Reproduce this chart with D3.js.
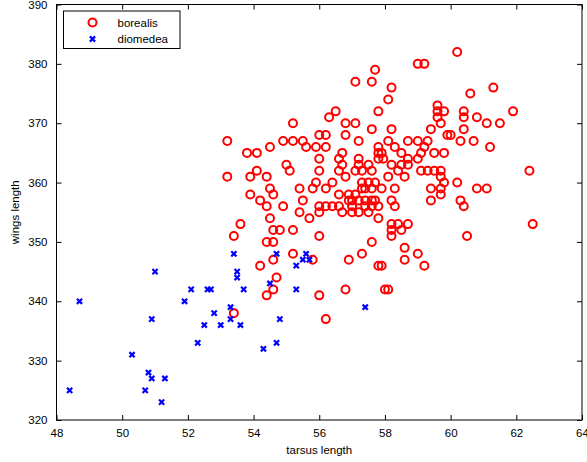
<!DOCTYPE html>
<html><head><meta charset="utf-8">
<script src="https://cdn.jsdelivr.net/npm/d3@7"></script>
<style>body{margin:0;background:#fff}svg text{font-family:"Liberation Sans",Arial,sans-serif}</style>
</head><body><svg id="c" width="587" height="462"></svg>
<script>
const xTicks = [48,50,52,54,56,58,60,62,64];
const yTicks = [320,330,340,350,360,370,380,390];
const seriesNames = ["borealis","diomedea"];
// borealis: [tarsus, wings]
const borealis = [
[60.2,382],[59.0,380],[59.2,380],[57.7,379],[57.1,377],[57.6,377],[58.2,376],[61.3,376],[60.6,375],[58.1,374],[59.6,373],
[56.5,372],[57.8,372],[59.6,372],[59.8,372],[60.4,372],[61.9,372],
[56.3,371],[59.6,371],[60.4,371],[60.8,371],
[55.2,370],[56.8,370],[57.1,370],[59.7,370],[61.1,370],[61.5,370],
[57.6,369],[58.2,369],[59.4,369],[60.4,369],
[56.0,368],[56.2,368],[56.8,368],[59.9,368],[60.0,368],
[53.2,367],[54.9,367],[55.2,367],[55.5,367],[57.2,367],[58.1,367],[58.7,367],[59.0,367],[59.3,367],[60.3,367],[60.7,367],
[54.5,366],[55.6,366],[55.9,366],[56.2,366],[57.8,366],[58.3,366],[59.2,366],[61.2,366],
[53.8,365],[54.1,365],[56.7,365],[57.8,365],[57.9,365],[58.5,365],[59.1,365],[59.5,365],[59.8,365],
[56.0,364],[56.6,364],[57.2,364],[57.8,364],[57.95,364],[58.7,364],[59.0,364],
[55.0,363],[56.7,363],[57.2,363],[57.5,363],[58.2,363],[58.5,363],[58.7,363],
[54.1,362],[55.1,362],[56.0,362],[56.6,362],[57.1,362],[57.3,362],[57.6,362],[58.4,362],[59.1,362],[59.3,362],[59.5,362],[59.7,362],[62.4,362],
[53.2,361],[53.9,361],[54.4,361],[56.8,361],[58.1,361],[58.6,361],[59.7,361],
[55.9,360],[56.4,360],[57.3,360],[57.5,360],[57.7,360],[59.8,360],[60.2,360],
[54.5,359],[55.4,359],[55.8,359],[56.2,359],[57.3,359],[57.4,359],[57.6,359],[57.9,359],[58.3,359],[59.4,359],[59.7,359],[60.8,359],[61.1,359],
[53.9,358],[54.6,358],[56.6,358],[56.9,358],[57.1,358],[59.7,358],
[54.2,357],[55.5,357],[56.9,357],[57.0,357],[57.2,357],[57.4,357],[57.6,357],[57.7,357],[58.2,357],[59.4,357],[60.3,357],
[54.4,356],[54.9,356],[56.0,356],[56.2,356],[56.4,356],[56.6,356],[57.0,356],[57.4,356],[57.6,356],[57.8,356],[58.3,356],[60.4,356],
[55.4,355],[56.0,355],[56.7,355],[57.0,355],[57.2,355],[57.5,355],
[54.5,354],[55.7,354],[57.8,354],
[53.6,353],[58.2,353],[58.4,353],[58.7,353],[62.5,353],
[54.6,352],[54.8,352],[55.2,352],[58.2,352],[58.5,352],
[53.4,351],[56.0,351],[58.2,351],[60.5,351],
[54.4,350],[54.6,350],[57.6,350],
[58.6,349],[55.2,348],[57.3,348],[59.0,348],
[54.6,347],[55.8,347],[56.9,347],[58.6,347],
[54.2,346],[57.8,346],[57.9,346],[59.2,346],
[54.7,344],[54.6,342],[56.8,342],[58.0,342],[58.1,342],
[54.4,341],[56.0,341],[53.4,338],[56.2,337]
];
const diomedea = [
[48.4,325],[48.7,340],[51.0,345],[50.3,331],[50.9,337],[50.8,328],[50.9,327],[50.7,325],[51.3,327],[51.2,323],
[51.9,340],[52.1,342],[52.3,333],[52.6,342],[52.7,342],[52.5,336],[52.8,338],[53.0,336],[53.3,339],[53.3,337],
[53.4,348],[53.5,345],[53.5,344],[53.6,336],[53.7,342],[54.7,348],[54.5,343],[55.3,346],[55.6,348],[55.5,347],
[55.7,347],[55.3,342],[54.8,337],[57.4,339],[54.3,332],[54.7,333]
];

const svg = d3.select("#c");
const L=56.5, R=582, T=4.5, B=420;
const x = d3.scaleLinear().domain([48,64]).range([L,R]);
const y = d3.scaleLinear().domain([320,390]).range([B,T]);

// axes
const tl = 5;
const ax = svg.append("g").attr("transform",`translate(0,${B})`)
  .call(d3.axisBottom(x).tickValues(xTicks).tickSize(-tl).tickPadding(9).tickFormat(d3.format("d")));
const axT = svg.append("g").attr("transform",`translate(0,${T})`)
  .call(d3.axisTop(x).tickValues(xTicks).tickSize(-tl).tickFormat(""));
const ay = svg.append("g").attr("transform",`translate(${L},0)`)
  .call(d3.axisLeft(y).tickValues(yTicks).tickSize(-tl).tickPadding(9).tickFormat(d3.format("d")));
const ayR = svg.append("g").attr("transform",`translate(${R},0)`)
  .call(d3.axisRight(y).tickValues(yTicks).tickSize(-tl).tickFormat(""));
[ax,axT,ay,ayR].forEach(g=>{
  g.select(".domain").remove();
  g.selectAll(".tick line").attr("stroke","#000").attr("stroke-width",1);
  g.selectAll("text").attr("font-size",11.5).attr("fill","#000").attr("font-family","Liberation Sans, Arial, sans-serif");
});
svg.append("rect").attr("x",L).attr("y",T).attr("width",R-L).attr("height",B-T)
  .attr("fill","none").attr("stroke","#000").attr("stroke-width",1);

// series
const circ = svg.append("g");
circ.selectAll("circle").data(borealis).join("circle")
  .attr("cx",d=>x(d[0])).attr("cy",d=>y(d[1])).attr("r",4)
  .attr("fill","none").attr("stroke","#ff0000").attr("stroke-width",2);
const xs = 2.6;
const crossPath = (cx,cy)=>`M${cx-xs},${cy-xs}L${cx+xs},${cy+xs}M${cx-xs},${cy+xs}L${cx+xs},${cy-xs}`;
svg.append("g").selectAll("path").data(diomedea).join("path")
  .attr("d",d=>crossPath(x(d[0]),y(d[1])))
  .attr("stroke","#0000ff").attr("stroke-width",2.2).attr("fill","none");

// labels
svg.append("text").attr("x",(L+R)/2).attr("y",454).attr("text-anchor","middle")
  .attr("font-size",11.5).text("tarsus length");
svg.append("text").attr("transform",`translate(19,${(T+B)/2}) rotate(-90)`).attr("text-anchor","middle")
  .attr("font-size",11.5).text("wings length");

// legend
const lg = svg.append("g");
lg.append("rect").attr("x",63.5).attr("y",11).attr("width",116.5).attr("height",37.5)
  .attr("fill","#fff").attr("stroke","#000").attr("stroke-width",1);
lg.append("circle").attr("cx",92.5).attr("cy",22.5).attr("r",4)
  .attr("fill","none").attr("stroke","#ff0000").attr("stroke-width",2);
lg.append("path").attr("d",crossPath(92.5,39)).attr("stroke","#0000ff").attr("stroke-width",2.2);
lg.selectAll("text.lt").data(seriesNames).join("text").attr("class","lt")
  .attr("x",117.5).attr("y",(d,i)=>22.5+i*16.5).attr("dy","0.35em")
  .attr("font-size",11.5).text(d=>d);
</script></body></html>
